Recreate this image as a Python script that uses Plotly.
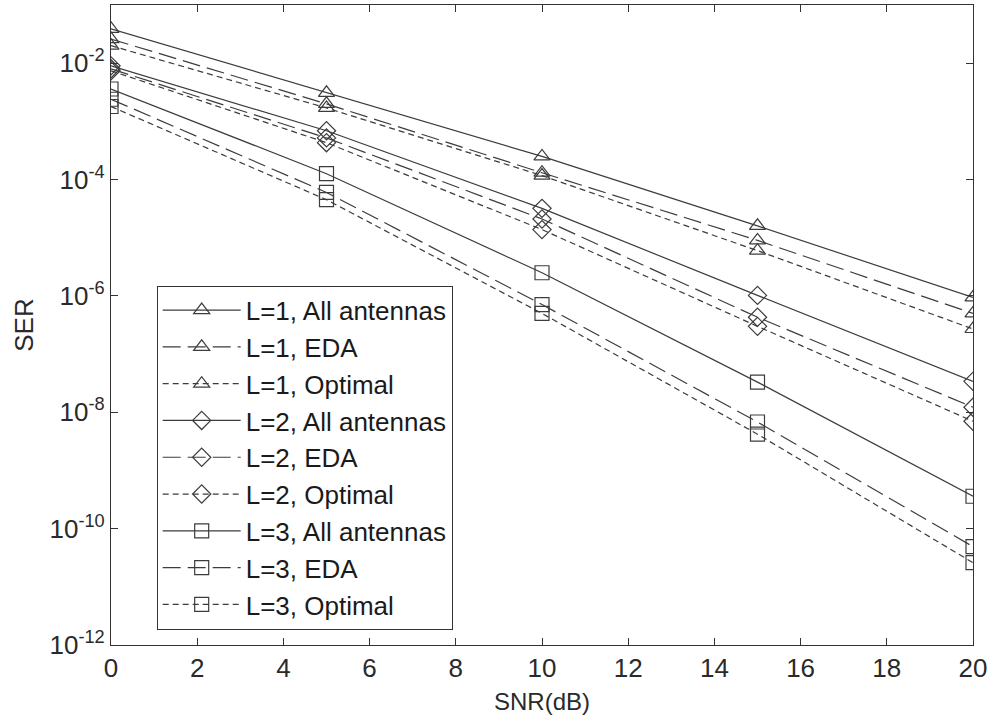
import plotly.graph_objects as go

snr = [0, 5, 10, 15, 20]

l1_all = [3.9e-2, 3.1e-3, 2.5e-4, 1.6e-5, 9.4e-7]
l1_eda = [2.6e-2, 2.0e-3, 1.31e-4, 9.0e-6, 5.0e-7]
l1_opt = [2.0e-2, 1.7e-3, 1.17e-4, 6.0e-6, 2.7e-7]
l2_all = [9.0e-3, 6.9e-4, 3.2e-5, 1.02e-6, 3.4e-8]
l2_eda = [8.0e-3, 5.2e-4, 2.1e-5, 4.3e-7, 1.22e-8]
l2_opt = [7.4e-3, 4.3e-4, 1.38e-5, 3.0e-7, 7.0e-9]
l3_all = [3.6e-3, 1.26e-4, 2.5e-6, 3.3e-8, 3.6e-10]
l3_eda = [2.4e-3, 6.0e-5, 7.1e-7, 6.8e-9, 4.9e-11]
l3_opt = [1.8e-3, 4.5e-5, 5.0e-7, 4.2e-9, 2.6e-11]

names = ["L=1, All antennas", "L=1, EDA", "L=1, Optimal",
         "L=2, All antennas", "L=2, EDA", "L=2, Optimal",
         "L=3, All antennas", "L=3, EDA", "L=3, Optimal"]
series = [l1_all, l1_eda, l1_opt, l2_all, l2_eda, l2_opt, l3_all, l3_eda, l3_opt]
symbols = ["triangle-up-open"] * 3 + ["diamond-open"] * 3 + ["square-open"] * 3
dashes = ["solid", "18px,7px", "6px,4px"] * 3

ytick_vals = [1e-12, 1e-10, 1e-8, 1e-6, 1e-4, 1e-2]
ytick_text = ["10<sup>-12</sup>", "10<sup>-10</sup>", "10<sup>-8</sup>",
              "10<sup>-6</sup>", "10<sup>-4</sup>", "10<sup>-2</sup>"]
xtick_vals = list(range(0, 21, 2))

line_col = "#3c3c3c"
fig = go.Figure()
for i, (nm, ys, sym, ds) in enumerate(zip(names, series, symbols, dashes)):
    fig.add_trace(go.Scatter(
        x=snr, y=ys, name=nm, mode="lines+markers",
        legendgroup="g%d" % i,
        line=dict(color=line_col, width=1.2, dash=ds),
        marker=dict(symbol=sym, size=14, color=line_col,
                    line=dict(color=line_col, width=1.2)),
    ))

fam = "Liberation Sans, Arial, sans-serif"
axis_font = dict(family=fam, size=26, color="#2a2a2a")
fig.update_layout(
    width=991, height=715,
    margin=dict(l=111, r=16, t=4, b=70),
    paper_bgcolor="white", plot_bgcolor="white",
    font=axis_font,
    showlegend=True,
    legend=dict(
        x=0.053, y=0.024, xanchor="left", yanchor="bottom",
        bgcolor="white", bordercolor="#333333", borderwidth=1,
        font=dict(family=fam, size=26, color="#1a1a1a"),
        tracegroupgap=0, traceorder="grouped", itemwidth=78,
    ),
)
fig.update_xaxes(
    range=[0, 20], tickvals=xtick_vals,
    ticks="inside", ticklen=7, tickcolor="#333", mirror="ticks",
    showline=True, linecolor="#333", linewidth=1.2, showgrid=False, zeroline=False,
    title=dict(text="SNR(dB)", standoff=10, font=dict(family=fam, size=24, color="#2a2a2a")),
    tickfont=axis_font,
)
fig.update_yaxes(
    type="log", range=[-12, -1], tickmode="array",
    tickvals=ytick_vals, ticktext=ytick_text,
    ticks="inside", ticklen=7, tickcolor="#333", mirror="ticks",
    showline=True, linecolor="#333", linewidth=1.2, showgrid=False, zeroline=False,
    title=dict(text="SER", standoff=8, font=dict(family=fam, size=26, color="#2a2a2a")),
    tickfont=axis_font,
)

fig.write_html("out.html")
